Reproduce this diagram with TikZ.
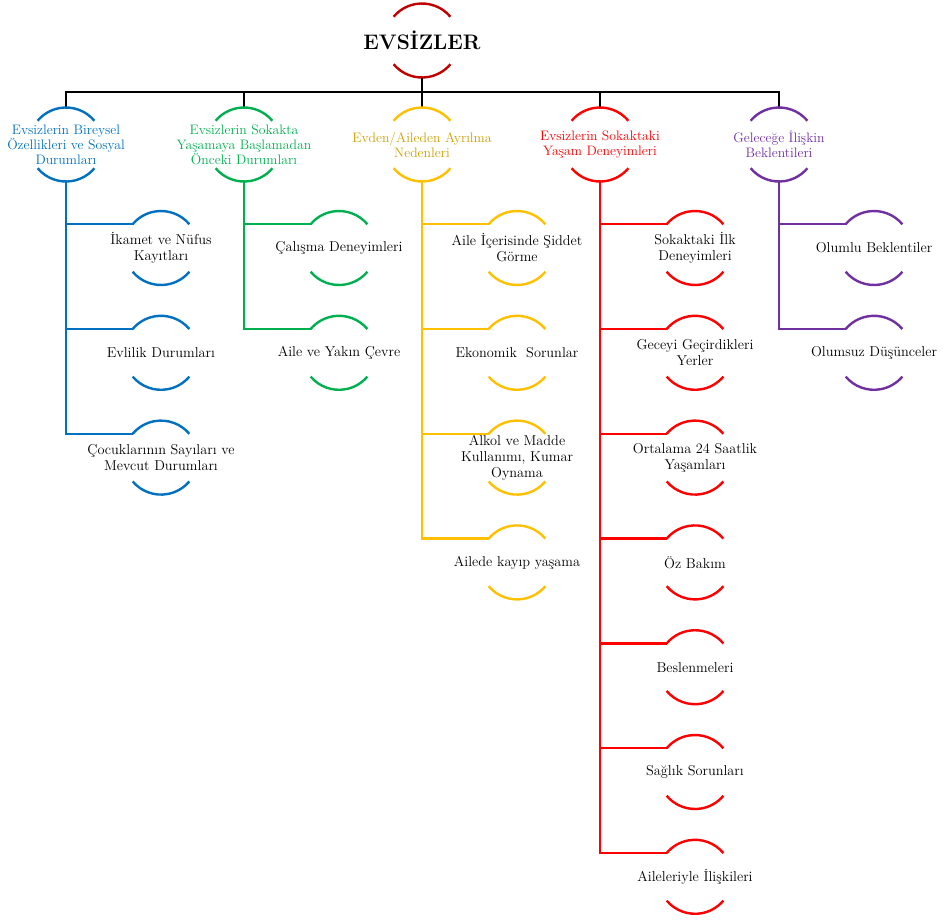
\documentclass[tikz,border=0pt]{standalone}
\usepackage{fontspec}
\definecolor{cblue}{HTML}{0070C0}
\definecolor{cgreen}{HTML}{00B050}
\definecolor{cyellow}{HTML}{FFC000}
\definecolor{cyeltext}{RGB}{204,160,0}
\definecolor{cred}{HTML}{FF0000}
\definecolor{cpurple}{HTML}{7030A0}
\definecolor{croot}{HTML}{C00000}
\newcommand\ringarcs[2]{%
  \draw[arcline,#2] (#1.40) arc[start angle=40,end angle=140,radius=37pt];
  \draw[arcline,#2] (#1.220) arc[start angle=220,end angle=320,radius=37pt];}
\begin{document}
\begin{tikzpicture}[x=1pt,y=1pt,
  ring/.style={circle,minimum size=74pt,inner sep=0pt,outer sep=0pt,draw=none},
  lbl/.style={align=center,font=\fontsize{14.3}{16}\selectfont,inner sep=0pt},
  hlbl/.style={align=center,font=\fontsize{13.7}{15}\selectfont,inner sep=0pt},
  wire/.style={line width=2.4pt},
  arcline/.style={line width=2.4pt}]
\useasboundingbox (0,0) rectangle (945,-919);
% root
\node[ring] (root) at (422,-40.5) {};
\node[font=\fontsize{21}{25}\selectfont\bfseries,inner sep=0pt] (roott) at (root) {EVSİZLER};
\ringarcs{root}{croot}
\coordinate (bus) at (422,-92);
% headers
\node[ring] (b0) at (66,-144.5) {};
\node[hlbl,text=cblue] (b0t) at (b0) {Evsizlerin Bireysel\\Özellikleri ve Sosyal\\Durumları};
\node[ring] (g0) at (244,-144.5) {};
\node[hlbl,text=cgreen] (g0t) at (g0) {Evsizlerin Sokakta\\Yaşamaya Başlamadan\\Önceki Durumları};
\node[ring] (y0) at (422,-144.5) {};
\node[hlbl,text=cyeltext] (y0t) at (y0) {Evden/Aileden Ayrılma\\Nedenleri};
\node[ring] (r0) at (600,-144.5) {};
\node[hlbl,text=cred] (r0t) at (r0) {Evsizlerin Sokaktaki\\Yaşam Deneyimleri};
\node[ring] (p0) at (779,-144.5) {};
\node[hlbl,text=cpurple] (p0t) at (p0) {Geleceğe İlişkin\\Beklentileri};
\draw[wire,black] (root.south) -- (bus);
\foreach \h in {b0,g0,y0,r0,p0} {\draw[wire,black] (bus) -| (\h.north);}
\ringarcs{b0}{cblue}
\ringarcs{g0}{cgreen}
\ringarcs{y0}{cyellow}
\ringarcs{r0}{cred}
\ringarcs{p0}{cpurple}
% blue leaves
\node[ring] (b1) at (161,-248) {};
\node[lbl] (b1t) at (b1) {İkamet ve Nüfus\\Kayıtları};
\node[ring] (b2) at (161,-352.8) {};
\node[lbl] (b2t) at (b2) {Evlilik Durumları};
\node[ring] (b3) at (161,-457.6) {};
\node[lbl] (b3t) at (b3) {Çocuklarının Sayıları ve\\Mevcut Durumları};
% green leaves
\node[ring] (g1) at (339,-248) {};
\node[lbl] (g1t) at (g1) {Çalışma Deneyimleri};
\node[ring] (g2) at (339,-352.8) {};
\node[lbl] (g2t) at (g2) {Aile ve Yakın Çevre};
% yellow leaves
\node[ring] (y1) at (517,-248) {};
\node[lbl] (y1t) at (y1) {Aile İçerisinde Şiddet\\Görme};
\node[ring] (y2) at (517,-352.8) {};
\node[lbl] (y2t) at (y2) {Ekonomik\ \ Sorunlar};
\node[ring] (y3) at (517,-457.6) {};
\node[lbl] (y3t) at (y3) {Alkol ve Madde\\Kullanımı, Kumar\\Oynama};
\node[ring] (y4) at (517,-562.4) {};
\node[lbl] (y4t) at (y4) {Ailede kayıp yaşama};
% red leaves
\node[ring] (r1) at (695,-248) {};
\node[lbl] (r1t) at (r1) {Sokaktaki İlk\\Deneyimleri};
\node[ring] (r2) at (695,-352.8) {};
\node[lbl] (r2t) at (r2) {Geceyi Geçirdikleri\\Yerler};
\node[ring] (r3) at (695,-457.6) {};
\node[lbl] (r3t) at (r3) {Ortalama 24 Saatlik\\Yaşamları};
\node[ring] (r4) at (695,-562.4) {};
\node[lbl] (r4t) at (r4) {Öz Bakım};
\node[ring] (r5) at (695,-667.2) {};
\node[lbl] (r5t) at (r5) {Beslenmeleri};
\node[ring] (r6) at (695,-772) {};
\node[lbl] (r6t) at (r6) {Sağlık Sorunları};
\node[ring] (r7) at (695,-876.8) {};
\node[lbl] (r7t) at (r7) {Aileleriyle İlişkileri};
% purple leaves
\node[ring] (p1) at (874,-248) {};
\node[lbl] (p1t) at (p1) {Olumlu Beklentiler};
\node[ring] (p2) at (874,-352.8) {};
\node[lbl] (p2t) at (p2) {Olumsuz Düşünceler};
% connectors
\foreach \c in {b1,b2,b3} {\draw[wire,cblue] (b0.south) |- (\c.140);}
\foreach \c in {g1,g2} {\draw[wire,cgreen] (g0.south) |- (\c.140);}
\foreach \c in {y1,y2,y3,y4} {\draw[wire,cyellow] (y0.south) |- (\c.140);}
\foreach \c in {r1,r2,r3,r4,r5,r6,r7} {\draw[wire,cred] (r0.south) |- (\c.140);}
\foreach \c in {p1,p2} {\draw[wire,cpurple] (p0.south) |- (\c.140);}
\foreach \c in {b1,b2,b3} {\ringarcs{\c}{cblue}}
\foreach \c in {g1,g2} {\ringarcs{\c}{cgreen}}
\foreach \c in {y1,y2,y3,y4} {\ringarcs{\c}{cyellow}}
\foreach \c in {r1,r2,r3,r4,r5,r6,r7} {\ringarcs{\c}{cred}}
\foreach \c in {p1,p2} {\ringarcs{\c}{cpurple}}
\end{tikzpicture}
\end{document}
